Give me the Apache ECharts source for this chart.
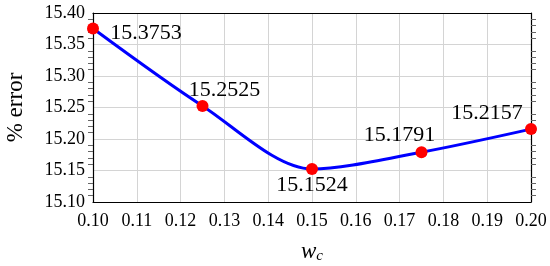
<!DOCTYPE html>
<html>
<head>
<meta charset="utf-8">
<script src="https://cdn.jsdelivr.net/npm/echarts@6/dist/echarts.min.js"></script>
<style>
  html, body { margin: 0; padding: 0; background: #fff; }
  #main { width: 550px; height: 266px; }
</style>
</head>
<body>
<div id="main"></div>
<script>
// data
const wc = [0.1, 0.125, 0.15, 0.175, 0.2];
const errPct = [15.3753, 15.2525, 15.1524, 15.1791, 15.2157];
const xTicks = { min: 0.1, max: 0.2, step: 0.01 };
const yTicks = { min: 15.1, max: 15.4, step: 0.05 };

// where each value label sits relative to its point (px)
const labelOffsets = [[53, 5], [22, -16], [0, 16], [-22, -17], [-44, -16]];

const font = "Liberation Serif";
const chart = echarts.init(document.getElementById("main"));

const gridLine = { show: true, lineStyle: { color: "#d4d4d4", width: 1 } };
const blackLine = { show: true, lineStyle: { color: "#000", width: 1.2 } };

const option = {
  animation: false,
  grid: { left: 93, right: 19, top: 13, bottom: 64, outerBoundsMode: "none" },
  xAxis: [
    {
      type: "value",
      min: xTicks.min,
      max: xTicks.max,
      interval: xTicks.step,
      axisLine: blackLine,
      axisTick: { show: false },
      splitLine: gridLine,
      axisLabel: {
        margin: 10,
        fontFamily: font,
        fontSize: 18,
        color: "#000",
        formatter: (v) => v.toFixed(2),
      },
      name: "{w|w}{c|c}",
      nameLocation: "middle",
      nameGap: 37,
      nameTextStyle: {
        rich: {
          w: { fontFamily: font, fontStyle: "italic", fontSize: 23, color: "#000" },
          c: { fontFamily: font, fontStyle: "italic", fontSize: 15, color: "#000", padding: [10, 0, 0, 0] },
        },
      },
    },
    {
      type: "value",
      position: "top",
      min: xTicks.min,
      max: xTicks.max,
      axisLine: blackLine,
      axisTick: { show: false },
      axisLabel: { show: false },
      splitLine: { show: false },
    },
  ],
  yAxis: [
    {
      type: "value",
      min: yTicks.min,
      max: yTicks.max,
      interval: yTicks.step,
      axisLine: blackLine,
      axisTick: { show: false },
      minorTick: { show: true, splitNumber: 5, length: 5, lineStyle: { color: "#666" } },
      splitLine: gridLine,
      axisLabel: {
        margin: 8,
        fontFamily: font,
        fontSize: 18,
        color: "#000",
        formatter: (v) => v.toFixed(2),
      },
      name: "% error",
      nameLocation: "middle",
      nameRotate: 90,
      nameGap: 66,
      nameTextStyle: { fontFamily: font, fontSize: 23, color: "#000" },
    },
    {
      type: "value",
      position: "right",
      min: yTicks.min,
      max: yTicks.max,
      interval: yTicks.step,
      axisLine: blackLine,
      axisTick: { show: false },
      minorTick: { show: true, splitNumber: 5, length: 5, lineStyle: { color: "#666" } },
      axisLabel: { show: false },
      splitLine: { show: false },
    },
  ],
  series: [
    {
      type: "line",
      smooth: 0.3,
      clip: false,
      symbol: "circle",
      symbolSize: 12,
      lineStyle: { color: "#0000ff", width: 3 },
      itemStyle: { color: "#ff0000" },
      z: 5,
      data: wc.map((x, i) => ({
        value: [x, errPct[i]],
        label: {
          show: true,
          position: "inside",
          offset: labelOffsets[i],
          formatter: errPct[i].toFixed(4),
          fontFamily: font,
          fontSize: 22,
          color: "#000",
        },
      })),
    },
  ],
};

chart.setOption(option);
</script>
</body>
</html>
